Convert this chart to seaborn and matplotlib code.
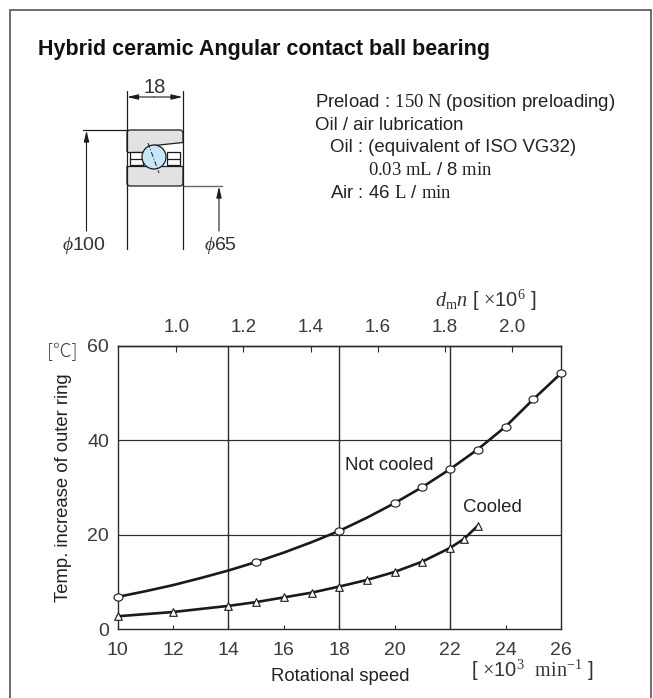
import matplotlib
matplotlib.use("Agg")
import matplotlib.pyplot as plt
import seaborn as sns
from matplotlib.patches import FancyBboxPatch, Circle, Rectangle, Polygon
from matplotlib.path import Path
from matplotlib.transforms import Affine2D

# ---- data ----
not_cooled_speed = [10, 15, 18, 20, 21, 22, 23, 24, 25, 26]
not_cooled_temp = [6.8, 14.2, 20.8, 26.7, 30.1, 33.9, 37.9, 42.9, 48.7, 54.2]
not_cooled_curve_speed = [10, 11, 12, 13, 14, 15, 16, 17, 18, 19, 20, 21, 22, 23, 24, 25, 26]
not_cooled_curve_temp = [6.8, 8.0, 9.3, 10.8, 12.4, 14.2, 16.2, 18.4, 20.8, 23.6, 26.7, 30.1, 33.9, 38.1, 42.9, 48.7, 54.2]
cooled_speed = [10, 12, 14, 15, 16, 17, 18, 19, 20, 21, 22, 22.5, 23]
cooled_temp = [2.7, 3.6, 4.9, 5.7, 6.7, 7.7, 9.0, 10.4, 12.1, 14.3, 17.2, 19.1, 21.9]
x_ticks = [10, 12, 14, 16, 18, 20, 22, 24, 26]
y_ticks = [0, 20, 40, 60]
dmn_ticks = [1.0, 1.2, 1.4, 1.6, 1.8, 2.0]
grid_speed = [14, 18, 22]
grid_temp = [20, 40]
DM = 0.0825

title = "Hybrid ceramic Angular contact ball bearing"
x_label = "Rotational speed"
y_label = "Temp. increase of outer ring"

# ---- style ----
sns.set_theme(style="white")
plt.rcParams.update({
    "font.family": ["Liberation Sans", "DejaVu Sans"],
    "mathtext.fontset": "custom",
    "mathtext.rm": "Liberation Serif",
    "mathtext.it": "Liberation Serif:italic",
    "mathtext.bf": "Liberation Serif:bold",
    "mathtext.fallback": "stixsans",
})
INK = "#2b2b2b"
W, H = 653, 698
fig = plt.figure(figsize=(W / 100, H / 100), dpi=100, facecolor="white")

# ---- chart axes ----
L, R, T, B = 117.5, 561.0, 346.0, 629.0
ax = fig.add_axes([L / W, 1 - B / H, (R - L) / W, (B - T) / H])
for v in grid_temp:
    ax.axhline(v, color=INK, lw=0.85, zorder=1)
for v in grid_speed:
    ax.axvline(v, color=INK, lw=1.0, zorder=1)
oval = Path.unit_circle().transformed(Affine2D().scale(1, 0.8))
sns.lineplot(x=not_cooled_curve_speed, y=not_cooled_curve_temp, ax=ax, color="#1a1a1a", lw=1.9, zorder=3, clip_on=False)
sns.lineplot(x=cooled_speed, y=cooled_temp, ax=ax, color="#1a1a1a", lw=1.9, zorder=3, clip_on=False)
sns.scatterplot(x=not_cooled_speed, y=not_cooled_temp, ax=ax, marker=oval, s=42, color="white",
                edgecolor="#1a1a1a", linewidth=0.8, zorder=4, clip_on=False)
sns.scatterplot(x=cooled_speed, y=cooled_temp, ax=ax, marker="^", s=30, color="white",
                edgecolor="#1a1a1a", linewidth=0.8, zorder=4, clip_on=False)
ax.set_xlim(10, 26)
ax.set_ylim(0, 60)
ax.set_xticks(x_ticks)
ax.set_yticks(y_ticks)
ax.tick_params(axis="x", direction="in", length=3, width=0.8, color=INK, labelsize=14,
               labelcolor="#3a3a3a", pad=9.5, bottom=True)
ax.tick_params(axis="y", length=0, labelsize=14, labelcolor="#3a3a3a", pad=6, left=False)
for s in ax.spines.values():
    s.set_color(INK)
    s.set_linewidth(1.0)
ax.set_xlabel(x_label, fontsize=13.3, color="#222222")
ax.set_ylabel(y_label, fontsize=13.3, color="#222222")
ax.xaxis.set_label_coords((340 - L) / (R - L), (B - 681) / (B - T), transform=ax.transAxes)
ax.xaxis.label.set_va("baseline")
ax.yaxis.set_label_coords((63 - L) / (R - L), (B - 487.5) / (B - T), transform=ax.transAxes)
ax.yaxis.label.set_va("center")

top = ax.secondary_xaxis("top", functions=(lambda n: n * DM, lambda d: d / DM))
top.set_xticks(dmn_ticks)
top.set_xticklabels([f"{v:.1f}" for v in dmn_ticks])
top.tick_params(direction="in", length=4, width=0.8, color=INK, labelsize=13.5, labelcolor="#3a3a3a", pad=7)
top.spines["top"].set_color(INK)
top.spines["top"].set_linewidth(1.0)

# ---- page overlay in pixel units: frame, drawing, notes ----
pg = fig.add_axes([0, 0, 1, 1], facecolor="none")
pg.set_xlim(0, W)
pg.set_ylim(H, 0)
pg.axis("off")
pg.plot([10, 10, 651, 651], [698, 9.5, 9.5, 698], color="#555555", lw=1.2, solid_joinstyle="miter")

def txt(x, y, s, size=13.4, ha="left", color="#222222", **kw):
    return pg.text(x, y, s, fontsize=size, ha=ha, va="baseline", color=color, **kw)

txt(38, 55, title, size=15.5, weight="bold", color="#111111")
txt(315, 106.7, r"Preload : $\mathrm{150\ N}$ (position preloading)")
txt(315, 130, "Oil / air lubrication")
txt(330, 152.3, "Oil : (equivalent of ISO VG32)")
txt(368, 175, r"$\mathrm{0.03\ mL}$ / 8 $\mathrm{min}$")
txt(330, 197.7, r"Air : 46 $\mathrm{L}$ / $\mathrm{min}$")
txt(345, 470, "Not cooled")
txt(463, 512.3, "Cooled")
txt(435, 306.7, r"$d_{\mathrm{m}}n$ [ $\times$10$^{6}$ ]", size=14.5, color="#333333")
txt(471, 677, r"[ $\times$10$^{3}$  $\mathrm{min}^{-1}$ ]", size=14.5, color="#333333")
pg.text(62, 352, "[℃]", fontsize=13.5, ha="center", va="center", color="#444444",
        family=["Noto Sans CJK JP", "DejaVu Sans"], weight="light")

# bearing cross-section
line = dict(color="#1c1c1c", lw=0.9)
pg.add_patch(FancyBboxPatch((127, 130), 56, 56, boxstyle="round,pad=0,rounding_size=3",
                            fc="#e2e2e2", ec="#1c1c1c", lw=0.9, zorder=2))
pg.add_patch(Polygon([(125, 152), (145, 152), (150, 146), (185, 142), (185, 166), (125, 166)], fc="white", ec="none", zorder=2.1))
pg.plot([150, 183], [146, 142.5], zorder=2.2, **line)
pg.plot([127, 183], [166, 166], zorder=2.2, **line)
pg.plot([127, 145], [152, 152], zorder=2.2, **line)
for x0, w0 in ((129.5, 13.5), (167, 13)):
    pg.add_patch(Rectangle((x0, 152), w0, 13, fc="white", ec="#1c1c1c", lw=0.9, zorder=2.3))
    pg.plot([x0, x0 + w0], [158.5, 158.5], zorder=2.3, **line)
pg.add_patch(Circle((154, 157), 12, fc="#c6e7f8", ec="#1c1c1c", lw=0.9, zorder=2.5))
pg.plot([148, 159], [143, 173], color="#1c1c1c", lw=0.7, ls=(0, (5, 2, 1, 2)), zorder=2.6)
pg.plot([126.5, 126.5], [91, 249], zorder=2.4, **line)
pg.plot([182.5, 182.5], [91, 249], zorder=2.4, **line)
pg.plot([83, 127], [130, 130], **line)
pg.plot([182.5, 222], [186, 186], color="#666666", lw=1.0)
arrow = dict(arrowstyle="-|>,head_width=0.13,head_length=0.55", color="#1c1c1c", lw=0.8, shrinkA=0, shrinkB=0)
pg.annotate("", xy=(86.5, 130.5), xytext=(86.5, 231), arrowprops=arrow)
pg.annotate("", xy=(219, 186.5), xytext=(219, 231), arrowprops=arrow)
pg.annotate("", xy=(127, 97), xytext=(154, 97), arrowprops=arrow)
pg.annotate("", xy=(182.5, 97), xytext=(154, 97), arrowprops=arrow)
txt(155, 93, "18", size=14.5, ha="center", color="#333333")
txt(84, 250, r"$\phi$100", size=14, ha="center", color="#333333")
txt(220, 250, r"$\phi$65", size=14, ha="center", color="#333333")

fig.savefig("out.png", dpi=100, facecolor="white")
